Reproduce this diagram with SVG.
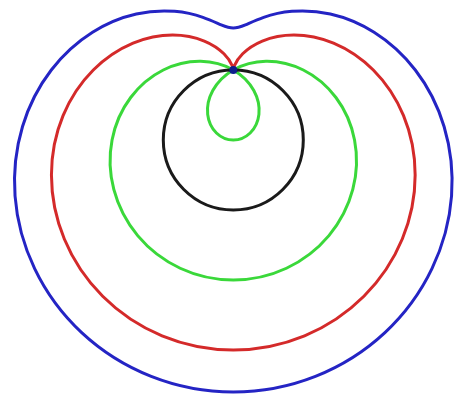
<svg xmlns="http://www.w3.org/2000/svg" width="459" height="397" viewBox="0 0 459 397">
<style>
.c{fill:none;stroke-width:3;stroke-linejoin:round;vector-effect:non-scaling-stroke}
</style>
<rect width="459" height="397" fill="#ffffff"/>
<g transform="matrix(0,70,70,0,233.3,70)">
<path id="blue" class="c" stroke="#2424c4" d="M4.6,0 C4.6,0.401 4.523,0.803 4.377,1.173 C4.231,1.543 4.017,1.882 3.752,2.166 C3.487,2.450 3.173,2.678 2.838,2.838 C2.503,2.998 2.148,3.092 1.8,3.118 C1.452,3.144 1.113,3.103 0.807,3.011 C0.500,2.919 0.227,2.775 0,2.6 C-0.227,2.425 -0.407,2.221 -0.539,2.011 C-0.671,1.802 -0.755,1.587 -0.8,1.386 C-0.845,1.185 -0.852,0.998 -0.838,0.838 C-0.824,0.678 -0.790,0.543 -0.752,0.434 C-0.714,0.325 -0.674,0.241 -0.645,0.173 C-0.617,0.105 -0.6,0.052 -0.6,0 C-0.6,-0.052 -0.617,-0.105 -0.645,-0.173 C-0.674,-0.241 -0.714,-0.325 -0.752,-0.434 C-0.790,-0.543 -0.824,-0.678 -0.838,-0.838 C-0.852,-0.998 -0.845,-1.185 -0.8,-1.386 C-0.755,-1.587 -0.671,-1.802 -0.539,-2.011 C-0.407,-2.221 -0.227,-2.425 0,-2.6 C0.227,-2.775 0.500,-2.919 0.807,-3.011 C1.113,-3.103 1.452,-3.144 1.8,-3.118 C2.148,-3.092 2.503,-2.998 2.838,-2.838 C3.173,-2.678 3.487,-2.450 3.752,-2.166 C4.017,-1.882 4.231,-1.543 4.377,-1.173 C4.523,-0.803 4.6,-0.401 4.6,0 Z"/>
<path id="red" class="c" stroke="#d42a2a" d="M4,0 C4,0.349 3.930,0.698 3.798,1.018 C3.665,1.337 3.470,1.628 3.232,1.866 C2.994,2.104 2.712,2.291 2.414,2.414 C2.116,2.538 1.802,2.598 1.5,2.598 C1.198,2.598 0.907,2.538 0.652,2.432 C0.396,2.326 0.175,2.175 0,2 C-0.175,1.825 -0.302,1.628 -0.384,1.432 C-0.465,1.236 -0.5,1.041 -0.5,0.866 C-0.5,0.691 -0.465,0.538 -0.414,0.414 C-0.363,0.291 -0.296,0.198 -0.232,0.134 C-0.168,0.070 -0.108,0.035 -0.066,0.018 C-0.024,0 0,0 0,0 C0,0 -0.024,0 -0.066,-0.018 C-0.108,-0.035 -0.168,-0.070 -0.232,-0.134 C-0.296,-0.198 -0.363,-0.291 -0.414,-0.414 C-0.465,-0.538 -0.5,-0.691 -0.5,-0.866 C-0.5,-1.041 -0.465,-1.236 -0.384,-1.432 C-0.302,-1.628 -0.175,-1.825 0,-2 C0.175,-2.175 0.396,-2.326 0.652,-2.432 C0.907,-2.538 1.198,-2.598 1.5,-2.598 C1.802,-2.598 2.116,-2.538 2.414,-2.414 C2.712,-2.291 2.994,-2.104 3.232,-1.866 C3.470,-1.628 3.665,-1.337 3.798,-1.018 C3.930,-0.698 4,-0.349 4,0 Z"/>
<path id="green" class="c" stroke="#3ad83a" d="M3,0 C3,0.262 2.942,0.523 2.832,0.759 C2.722,0.994 2.561,1.203 2.366,1.366 C2.171,1.529 1.943,1.645 1.707,1.707 C1.471,1.769 1.227,1.776 1,1.732 C0.773,1.689 0.564,1.595 0.393,1.466 C0.221,1.337 0.087,1.175 0,1 C-0.087,0.826 -0.128,0.640 -0.125,0.466 C-0.122,0.292 -0.076,0.131 0,0 C0.076,-0.131 0.180,-0.231 0.293,-0.293 C0.406,-0.355 0.527,-0.378 0.634,-0.366 C0.742,-0.354 0.835,-0.308 0.900,-0.241 C0.965,-0.174 1,-0.087 1,0 C1,0.087 0.965,0.174 0.900,0.241 C0.835,0.308 0.742,0.354 0.634,0.366 C0.527,0.378 0.406,0.355 0.293,0.293 C0.180,0.231 0.076,0.131 0,0 C-0.076,-0.131 -0.122,-0.292 -0.125,-0.466 C-0.128,-0.640 -0.087,-0.826 0,-1 C0.087,-1.175 0.221,-1.337 0.393,-1.466 C0.564,-1.595 0.773,-1.689 1,-1.732 C1.227,-1.776 1.471,-1.769 1.707,-1.707 C1.943,-1.645 2.171,-1.529 2.366,-1.366 C2.561,-1.203 2.722,-0.994 2.832,-0.759 C2.942,-0.523 3,-0.262 3,0 Z"/>
</g>
<g id="circle">
<circle class="c" cx="233.3" cy="140" r="70" stroke="#1a1a1a" stroke-width="2.5"/>
</g>
<g id="pole">
<circle cx="233.3" cy="70" r="4" fill="#0d1f8c"/>
</g>
</svg>
